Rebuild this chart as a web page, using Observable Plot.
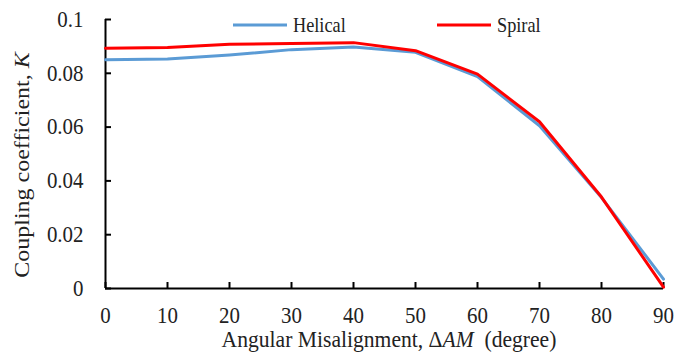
<!DOCTYPE html>
<html>
<head>
<meta charset="utf-8">
<script src="https://cdn.jsdelivr.net/npm/d3@7"></script>
<script src="https://cdn.jsdelivr.net/npm/@observablehq/plot@0.6"></script>
<style>
  html, body { margin: 0; padding: 0; background: #fff; }
  #chart svg { display: block; }
  #chart svg, #chart svg text { font-family: "Liberation Serif", serif; }
</style>
</head>
<body>
<div id="chart"></div>
<script>
// Angular misalignment (degrees)
const angles = [0, 10, 20, 30, 40, 50, 60, 70, 80, 90];
// Coupling coefficient K for each coil type
const helical = [0.0850, 0.0853, 0.0868, 0.0888, 0.0898, 0.0878, 0.0788, 0.0605, 0.0338, 0.0035];
const spiral  = [0.0893, 0.0896, 0.0908, 0.0911, 0.0914, 0.0884, 0.0797, 0.0620, 0.0340, 0.0005];
const seriesNames = ["Helical", "Spiral"];
const seriesColors = ["#5b9bd5", "#ff0000"];
const xTicks = [0, 10, 20, 30, 40, 50, 60, 70, 80, 90];
const yTicks = [0, 0.02, 0.04, 0.06, 0.08, 0.1];

const rows = [];
[helical, spiral].forEach((vals, s) => {
  vals.forEach((k, i) => rows.push({series: seriesNames[s], angle: angles[i], k}));
});

const fmtY = d => d === 0 ? "0" : String(+d.toFixed(2));

const plot = Plot.plot({
  width: 694,
  height: 355,
  marginLeft: 105,
  marginRight: 31,
  marginTop: 19,
  marginBottom: 67,
  style: {color: "#222", background: "#fff", fontSize: "23px"},
  x: {domain: [0, 90]},
  y: {domain: [0, 0.1]},
  color: {domain: seriesNames, range: seriesColors},
  marks: [
    // tick labels
    Plot.axisX(xTicks, {tickSize: 0, tickPadding: 18, label: null, tickFormat: d => String(d)}),
    Plot.axisY(yTicks, {tickSize: 0, tickPadding: 22, label: null, tickFormat: fmtY}),
    // inward tick marks
    Plot.axisX(xTicks, {tickSize: -6, tickFormat: () => "", label: null, strokeWidth: 2, stroke: "#000"}),
    Plot.axisY(yTicks, {tickSize: -6, tickFormat: () => "", label: null, strokeWidth: 2, stroke: "#000"}),
    Plot.ruleY([0], {stroke: "#000", strokeWidth: 2}),
    Plot.ruleX([0], {stroke: "#000", strokeWidth: 2}),
    Plot.line(rows, {x: "angle", y: "k", z: "series", stroke: "series", strokeWidth: 3})
  ]
});

document.getElementById("chart").appendChild(plot);

const svg = d3.select(plot);

// narrow the tick-label glyphs horizontally about each label's anchor point
function squeeze(sel, sx) {
  sel.each(function () {
    const t = d3.select(this);
    const xa = t.attr("x");
    const x = xa != null && !isNaN(+xa) ? +xa : 0;
    if (xa != null && !isNaN(+xa)) t.attr("x", null);
    const tr = t.attr("transform") || "";
    t.attr("transform", `${tr} translate(${x},0) scale(${sx},1)`);
  });
}
squeeze(svg.selectAll("text"), 0.91);

// x-axis title with italic symbol
const xt = svg.append("text")
  .attr("transform", "translate(389,347) scale(0.9,1)")
  .attr("text-anchor", "middle")
  .style("font-size", "24px")
  .attr("fill", "#222");
xt.append("tspan").text("Angular Misalignment, Δ");
xt.append("tspan").attr("font-style", "italic").text("AM");
xt.append("tspan").text("\u00a0 (degree)");

// y-axis title with italic symbol
const yt = svg.append("text")
  .attr("transform", "translate(29,165) rotate(-90) scale(1,0.83)")
  .attr("text-anchor", "middle")
  .style("font-size", "24px")
  .attr("fill", "#222");
yt.append("tspan").text("Coupling coefficient, ");
yt.append("tspan").attr("font-style", "italic").text("K");

// legend
const legendX = [233, 437];
seriesNames.forEach((name, i) => {
  const g = svg.append("g").attr("transform", `translate(${legendX[i]},25)`);
  g.append("line").attr("x1", 0).attr("x2", 54).attr("y1", 0).attr("y2", 0)
    .attr("stroke", seriesColors[i]).attr("stroke-width", 3);
  g.append("text").attr("transform", "translate(60,6.8) scale(0.87,1)")
    .attr("text-anchor", "start")
    .style("font-size", "21px")
    .attr("fill", "#222").text(name);
});
</script>
</body>
</html>
